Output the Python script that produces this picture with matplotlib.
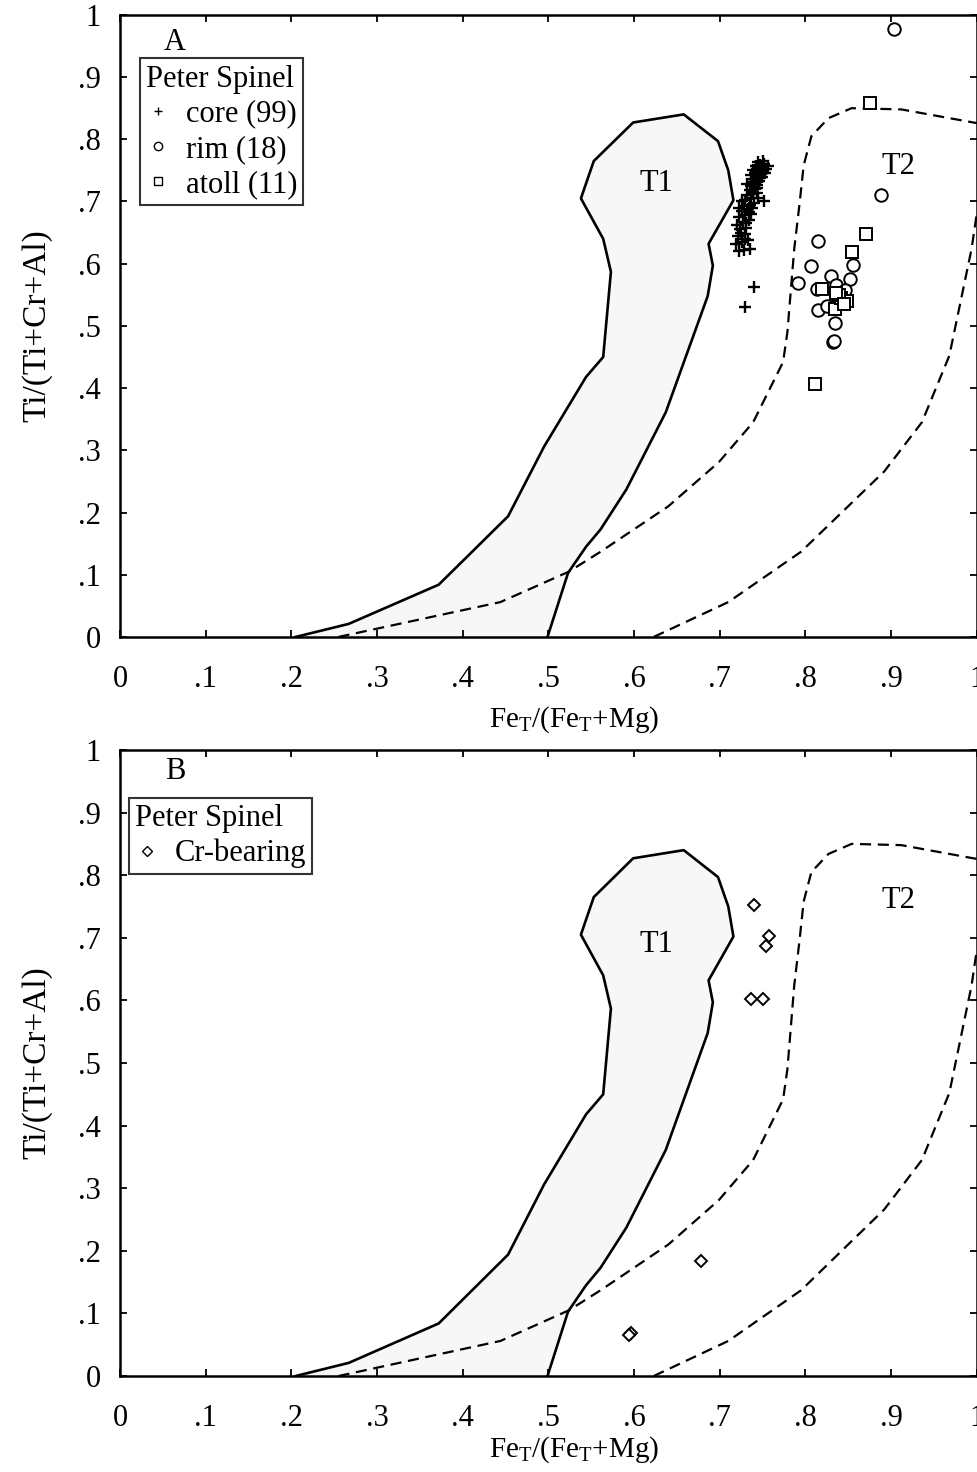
import numpy as np
import matplotlib
matplotlib.use("Agg")
import matplotlib.pyplot as plt
from matplotlib.lines import Line2D

plt.rcParams['font.family'] = ['Liberation Serif', 'DejaVu Serif']
plt.rcParams['mathtext.fontset'] = 'custom'
plt.rcParams['mathtext.rm'] = 'Liberation Serif'
plt.rcParams['mathtext.it'] = 'Liberation Serif:italic'

# field outlines
t1_x = [0.205, 0.267, 0.372, 0.453, 0.495, 0.544, 0.564, 0.573, 0.564, 0.538, 0.553,
        0.599, 0.658, 0.698, 0.710, 0.716, 0.687, 0.692, 0.686, 0.637, 0.591, 0.561,
        0.544, 0.523, 0.499]
t1_y = [0.0, 0.021, 0.084, 0.194, 0.306, 0.418, 0.450, 0.587, 0.640, 0.705, 0.765,
        0.827, 0.840, 0.797, 0.750, 0.702, 0.632, 0.597, 0.548, 0.361, 0.237, 0.173,
        0.145, 0.103, 0.0]

t2_left_x = [0.255, 0.444, 0.524, 0.561, 0.640, 0.699, 0.739, 0.774, 0.779, 0.787,
             0.793, 0.798, 0.807, 0.827, 0.854, 0.912, 1.0]
t2_left_y = [0.0, 0.056, 0.105, 0.137, 0.210, 0.281, 0.345, 0.442, 0.490, 0.624,
             0.694, 0.758, 0.805, 0.834, 0.850, 0.848, 0.826]
t2_right_x = [0.623, 0.710, 0.795, 0.892, 0.936, 0.968, 0.994, 1.0]
t2_right_y = [0.0, 0.056, 0.137, 0.266, 0.345, 0.452, 0.624, 0.680]

# Peter spinel, panel A
core_x = [0.722, 0.728, 0.735, 0.719, 0.726, 0.733, 0.721, 0.729, 0.724, 0.731, 0.720,
          0.727, 0.734, 0.723, 0.730, 0.737, 0.726, 0.733, 0.728, 0.735, 0.740, 0.730,
          0.737, 0.732, 0.739, 0.744, 0.735, 0.741, 0.737, 0.744, 0.732, 0.740, 0.746,
          0.738, 0.743, 0.749, 0.736, 0.741, 0.746, 0.751, 0.739, 0.744, 0.749, 0.754,
          0.742, 0.747, 0.752, 0.745, 0.750, 0.756, 0.748, 0.752, 0.740, 0.729, 0.726,
          0.722, 0.745, 0.725, 0.731, 0.738, 0.743, 0.747, 0.753, 0.734, 0.729, 0.739]
core_y = [0.620, 0.622, 0.623, 0.632, 0.635, 0.638, 0.645, 0.648, 0.655, 0.658, 0.662,
          0.667, 0.670, 0.675, 0.678, 0.680, 0.685, 0.688, 0.693, 0.695, 0.698, 0.702,
          0.705, 0.710, 0.712, 0.714, 0.718, 0.720, 0.725, 0.727, 0.728, 0.731, 0.733,
          0.736, 0.739, 0.740, 0.742, 0.745, 0.747, 0.748, 0.750, 0.752, 0.754, 0.752,
          0.757, 0.759, 0.760, 0.763, 0.765, 0.757, 0.745, 0.700, 0.563, 0.531, 0.700,
          0.690, 0.705, 0.650, 0.665, 0.690, 0.722, 0.738, 0.745, 0.683, 0.640, 0.716]

rim_x = [0.888, 0.815, 0.807, 0.856, 0.852, 0.830, 0.791, 0.813, 0.836, 0.815, 0.825,
         0.834, 0.832, 0.833, 0.903, 0.842, 0.838, 0.846]
rim_y = [0.710, 0.637, 0.597, 0.598, 0.576, 0.581, 0.569, 0.560, 0.566, 0.526, 0.532,
         0.505, 0.474, 0.476, 0.977, 0.550, 0.542, 0.558]

atoll_x = [0.875, 0.871, 0.854, 0.811, 0.819, 0.834, 0.842, 0.848, 0.839, 0.836, 0.845]
atoll_y = [0.858, 0.647, 0.619, 0.406, 0.560, 0.527, 0.545, 0.540, 0.549, 0.553, 0.536]

# panel B
cr_x = [0.740, 0.757, 0.754, 0.737, 0.751, 0.678, 0.596, 0.594]
cr_y = [0.752, 0.703, 0.687, 0.603, 0.603, 0.184, 0.069, 0.066]

ticks = [0, .1, .2, .3, .4, .5, .6, .7, .8, .9, 1]
tick_labels = ['0', '.1', '.2', '.3', '.4', '.5', '.6', '.7', '.8', '.9', '1']

fig = plt.figure(figsize=(9.78, 14.72), dpi=100)
ax_a = fig.add_axes([0.1227, 0.5673, 0.876, 0.4226])
ax_b = fig.add_axes([0.1227, 0.0652, 0.876, 0.4253])

fs = 22


def draw_fields(ax, xpad):
    ax.fill(t1_x, t1_y, facecolor='#f7f7f7', edgecolor='none', zorder=1)
    ax.plot(t1_x, t1_y, color='black', lw=1.9, zorder=2)
    ax.plot(t2_left_x, t2_left_y, color='black', lw=1.6, ls=(0, (5, 3)), zorder=2)
    ax.plot(t2_right_x, t2_right_y, color='black', lw=1.6, ls=(0, (5, 3)), zorder=2)
    ax.set_xlim(0, 1)
    ax.set_ylim(0, 1)
    ax.set_xticks(ticks)
    ax.set_xticklabels(tick_labels)
    ax.set_yticks(ticks)
    ax.set_yticklabels(tick_labels)
    ax.tick_params(direction='in', length=5, width=1.3, top=True, right=True,
                   labelsize=fs)
    ax.tick_params(axis='x', pad=20)
    ax.tick_params(axis='y', pad=14)
    for sp in ax.spines.values():
        sp.set_linewidth(1.8)
    ax.set_xlabel(r'Fe$_\mathrm{T}$/(Fe$_\mathrm{T}$+Mg)', fontsize=fs - 1,
                  labelpad=xpad, x=0.53)
    ax.set_ylabel('Ti/(Ti+Cr+Al)', fontsize=fs + 2, labelpad=18)


draw_fields(ax_a, 8)
ax_a.plot(core_x, core_y, ls='none', marker='+', ms=9, mew=1.7, color='black', zorder=3)
ax_a.plot(rim_x, rim_y, ls='none', marker='o', ms=9, mew=1.4, mfc='white',
          mec='black', zorder=4)
ax_a.plot(atoll_x, atoll_y, ls='none', marker='s', ms=8.5, mew=1.4, mfc='white',
          mec='black', zorder=4)
ax_a.text(0.064, 0.956, 'A', fontsize=fs, ha='center', va='center')
ax_a.text(0.626, 0.729, 'T1', fontsize=fs, ha='center', va='center')
ax_a.text(0.909, 0.756, 'T2', fontsize=fs, ha='center', va='center')
handles_a = [
    Line2D([], [], ls='none', marker='+', ms=6, mew=1.0, color='black'),
    Line2D([], [], ls='none', marker='o', ms=6, mew=1.0, mfc='white', mec='black'),
    Line2D([], [], ls='none', marker='s', ms=6, mew=1.0, mfc='white', mec='black'),
]
leg_a = ax_a.legend(handles_a, ['core (99)', 'rim (18)', 'atoll (11)'],
                    title='Peter Spinel', loc='upper left',
                    bbox_to_anchor=(0.023, 0.93), fontsize=fs, title_fontsize=fs,
                    frameon=True, fancybox=False, edgecolor='black',
                    handlelength=0.8, handletextpad=0.5, borderpad=0.2,
                    labelspacing=0.2, borderaxespad=0)
leg_a._legend_box.align = 'left'
leg_a.get_frame().set_linewidth(1.5)

draw_fields(ax_b, 1)
ax_b.plot(cr_x, cr_y, ls='none', marker='D', ms=6.5, mew=1.4, mfc='white',
          mec='black', zorder=4)
ax_b.text(0.064, 0.965, 'B', fontsize=fs, ha='center', va='center')
ax_b.text(0.626, 0.69, 'T1', fontsize=fs, ha='center', va='center')
ax_b.text(0.909, 0.76, 'T2', fontsize=fs, ha='center', va='center')
handles_b = [Line2D([], [], ls='none', marker='D', ms=5, mew=1.0, mfc='white',
                    mec='black')]
leg_b = ax_b.legend(handles_b, ['Cr-bearing'], title='Peter Spinel',
                    loc='upper left', bbox_to_anchor=(0.01, 0.924), fontsize=fs,
                    title_fontsize=fs, frameon=True, fancybox=False,
                    edgecolor='black', handlelength=0.8, handletextpad=0.5,
                    borderpad=0.2, labelspacing=0.2, borderaxespad=0)
leg_b._legend_box.align = 'left'
leg_b.get_frame().set_linewidth(1.5)

fig.savefig('out.png', dpi=100)
